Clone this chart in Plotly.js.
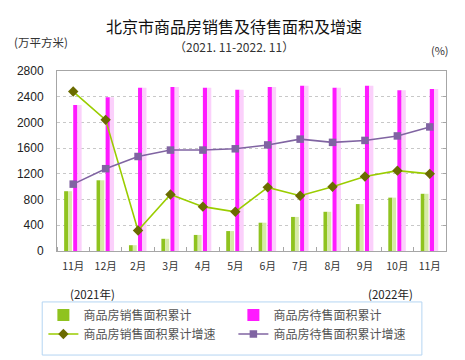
<!DOCTYPE html>
<html><head><meta charset="utf-8">
<script src="https://cdn.plot.ly/plotly-3.0.1.min.js"></script>
<style>html,body{margin:0;padding:0;background:#fff}#c{width:465px;height:360px}</style>
</head><body><div id="c"></div>
<script>
const months = ["11月","12月","2月","3月","4月","5月","6月","7月","8月","9月","10月","11月"];
const salesArea = [930,1100,90,190,250,310,440,530,610,730,830,890];
const forSaleArea = [2270,2390,2540,2550,2540,2510,2550,2570,2540,2570,2500,2520];
const salesGrowth = [24.8,20.4,3.2,8.8,6.9,6.1,9.9,8.6,10.0,11.6,12.5,12.0];
const forSaleGrowth = [10.4,12.8,14.7,15.7,15.7,15.9,16.5,17.4,16.9,17.2,17.9,19.3];
const names = ["商品房销售面积累计","商品房待售面积累计","商品房销售面积累计增速","商品房待售面积累计增速"];

const x = months.map((m,i)=>i);
const font = "'Noto Sans CJK SC', 'Liberation Sans', sans-serif";
const traces = [
  {type:'bar', x:x, y:salesArea, name:names[0], offset:-0.28, width:0.12, marker:{color:'#8fc31f'}},
  {type:'bar', x:x, y:salesArea, name:names[0], offset:-0.16, width:0.12, marker:{color:'#d6eaa6'}, showlegend:false},
  {type:'bar', x:x, y:forSaleArea, name:names[1], offset:0.0, width:0.13, marker:{color:'#ff1aff'}},
  {type:'bar', x:x, y:forSaleArea, name:names[1], offset:0.13, width:0.13, marker:{color:'#fbd0fb'}, showlegend:false},
  {type:'scatter', mode:'lines+markers', x:x, y:salesGrowth, yaxis:'y2', name:names[2],
   line:{color:'#9acd00', width:1.6}, marker:{symbol:'diamond', size:8, color:'#6b6b00'}},
  {type:'scatter', mode:'lines+markers', x:x, y:forSaleGrowth, yaxis:'y2', name:names[3],
   line:{color:'#8064a2', width:1.6}, marker:{symbol:'square', size:7.5, color:'#8064a2'}}
];
const layout = {
  width:465, height:360, margin:{l:57, r:19, t:71, b:109},
  paper_bgcolor:'#fff', plot_bgcolor:'#fff', barmode:'overlay',
  font:{family:font, size:11, color:'#222'},
  showlegend:true,
  legend:{orientation:'h', x:-0.035, xanchor:'left', y:-0.275, yanchor:'top', entrywidth:145, entrywidthmode:'pixels',
    traceorder:'normal', borderwidth:0, font:{size:12, color:'#555', family:font},
    itemwidth:30, tracegroupgap:0, bgcolor:'rgba(0,0,0,0)'},
  shapes:[
    {type:'rect', xref:'paper', yref:'paper', x0:-0.038, x1:0.938, y0:-0.283, y1:-0.578, line:{color:'#b5d5f2', width:1}, layer:'below'}
  ],
  xaxis:{range:[-0.5,11.5], tickvals:x, ticktext:months, ticks:'', showline:true, mirror:true, linecolor:'#a6a6a6',
    tickfont:{size:10.5, color:'#333'}, showgrid:false, zeroline:false, ticklabelstandoff:5,
    minor:{tick0:-0.5, dtick:1, ticks:'inside', ticklen:4, tickcolor:'#a6a6a6', showgrid:false}},
  yaxis:{range:[0,2800], dtick:400, showline:true, mirror:true, linecolor:'#a6a6a6', ticks:'', ticklabelstandoff:10,
    showgrid:true, gridcolor:'#c8c8c8', griddash:'dot', zeroline:false, tickfont:{size:12, color:'#222', family:"'Liberation Sans', Arial, sans-serif"}},
  yaxis2:{range:[0,28], dtick:4, overlaying:'y', side:'right', showticklabels:false, ticks:'inside', ticklen:3,
    tickcolor:'#a6a6a6', showgrid:false, zeroline:false},
  annotations:[
    {text:'北京市商品房销售及待售面积及增速', xref:'paper', yref:'paper', x:0.455, y:1.0, yanchor:'bottom', xanchor:'center', yshift:31, showarrow:false, font:{size:16, color:'#111'}},
    {text:'（2021. 11-2022. 11）', xref:'paper', yref:'paper', x:0.455, y:1.0, yanchor:'bottom', xanchor:'center', yshift:14, showarrow:false, font:{size:12, color:'#333'}},
    {text:'(万平方米)', xref:'paper', yref:'paper', x:-0.115, y:1.0, yanchor:'bottom', xanchor:'left', yshift:19, showarrow:false, font:{size:11.5, color:'#333'}},
    {text:'(%)', xref:'paper', yref:'paper', x:1.0, y:1.0, yanchor:'bottom', xanchor:'right', yshift:11, xshift:5, showarrow:false, font:{size:11, color:'#333'}},
    {text:'(2021年)', xref:'x', yref:'paper', x:0.6, y:0, yanchor:'top', xanchor:'center', yshift:-33, showarrow:false, font:{size:11.5, color:'#222'}},
    {text:'(2022年)', xref:'x', yref:'paper', x:9.8, y:0, yanchor:'top', xanchor:'center', yshift:-33, showarrow:false, font:{size:11.5, color:'#222'}}
  ]
};
Plotly.newPlot('c', traces, layout, {displayModeBar:false, staticPlot:true});
</script></body></html>
